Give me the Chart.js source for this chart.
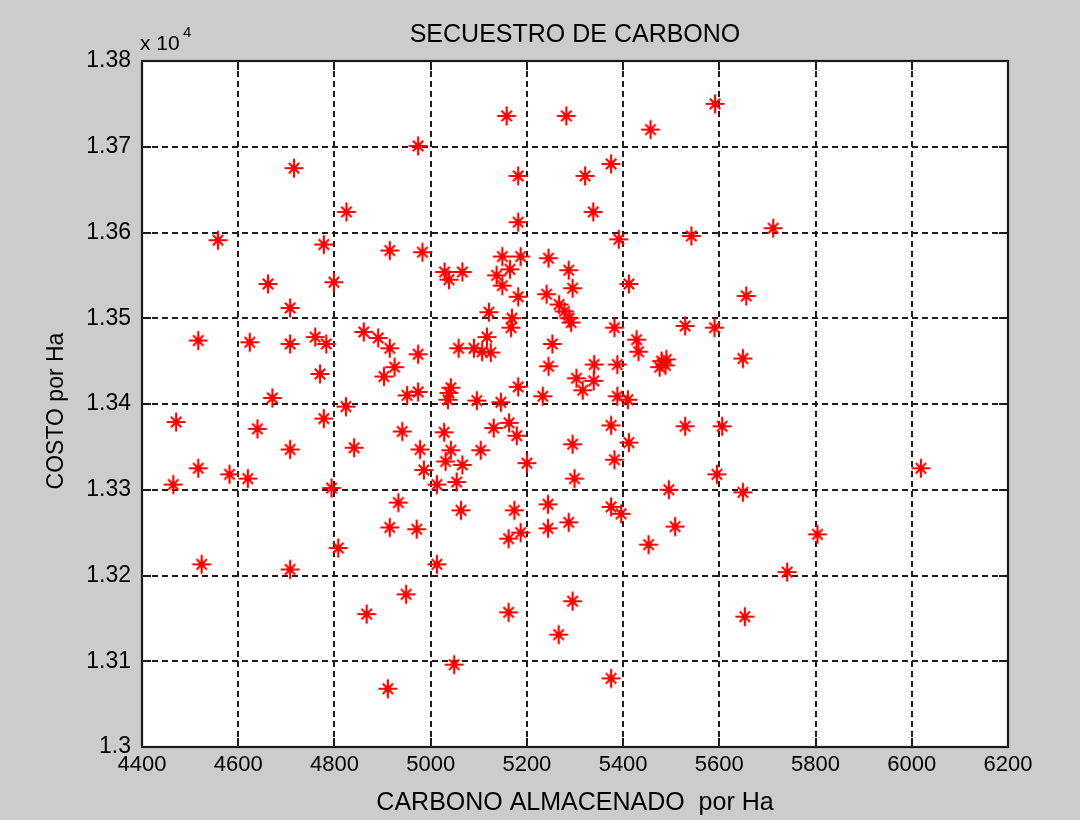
<!DOCTYPE html>
<html>
<head>
<meta charset="utf-8">
<title>Secuestro de carbono</title>
<script src="https://cdn.jsdelivr.net/npm/chart.js@4/dist/chart.umd.min.js"></script>
<style>
  html, body { margin: 0; padding: 0; background: #cccccc; }
  #wrap { width: 1080px; height: 820px; }
</style>
</head>
<body>
<div id="wrap"><canvas id="scatterChart" width="1080" height="820"></canvas></div>
<script>
// carbono almacenado por Ha (x) y costo por Ha (y)
const carbono = [
  4974, 4716, 4825, 4558, 4778, 4915, 4983, 4662, 4799, 5158,
  5282, 5591, 5457, 5375, 5321, 5182, 5338, 5182, 5391, 5542,
  5149, 5187, 5245, 5029, 5066, 5038, 5137, 5165, 5149, 5287,
  5295, 5412, 5241, 5182, 5712, 5656, 4708, 4517, 4624, 4708,
  4760, 4783, 4861, 4891, 4915, 4974, 4770, 4925, 4903, 4951,
  4974, 4671, 4824, 4471, 4640, 4778, 4941, 4708, 4841, 4978,
  4517, 4582, 4620, 4465, 4794, 4986, 5013, 4933, 4915, 4971,
  5121, 5169, 5167, 5267, 5278, 5288, 5292, 5382, 5529, 5590,
  5117, 5058, 5090, 5107, 5125, 5253, 5428, 5432, 5480, 5490,
  5476, 5488, 5245, 5340, 5388, 5303, 5339, 5316, 5042, 5038,
  5036, 5182, 5096, 5146, 5233, 5388, 5410, 5028, 5131, 5163,
  5179, 5375, 5529, 5606, 5295, 5412, 5042, 5104, 5031, 5066,
  5200, 5382, 5595, 5054, 5299, 5495, 5063, 5174, 5244, 5375,
  5396, 5162, 5187, 5244, 5287, 5453, 5508, 5013, 5295, 5162,
  5266, 5049, 5375, 4524, 4708, 4808, 4949, 4867, 4911, 5649,
  6019, 5649, 5804, 5741, 5653
];
const costo = [
  13701, 13675, 13624, 13591, 13586, 13579, 13577, 13540, 13542, 13736,
  13736, 13750, 13720, 13680, 13666, 13666, 13624, 13612, 13592, 13596,
  13572, 13572, 13570, 13554, 13554, 13545, 13550, 13557, 13538, 13556,
  13535, 13540, 13528, 13525, 13605, 13526, 13512, 13474, 13472, 13470,
  13478, 13470, 13484, 13477, 13465, 13458, 13435, 13443, 13432, 13410,
  13414, 13407, 13397, 13379, 13371, 13383, 13368, 13347, 13349, 13347,
  13325, 13318, 13313, 13306, 13302, 13323, 13306, 13285, 13256, 13254,
  13507, 13500, 13489, 13516, 13508, 13500, 13495, 13489, 13491, 13489,
  13478, 13465, 13465, 13461, 13460, 13470, 13475, 13461, 13450, 13452,
  13443, 13445, 13444, 13446, 13446, 13430, 13427, 13416, 13419, 13413,
  13405, 13420, 13404, 13402, 13409, 13409, 13405, 13367, 13372, 13378,
  13363, 13375, 13374, 13374, 13353, 13355, 13346, 13346, 13333, 13329,
  13331, 13335, 13318, 13309, 13313, 13300, 13276, 13276, 13283, 13280,
  13272, 13243, 13250, 13255, 13262, 13236, 13257, 13213, 13170, 13157,
  13131, 13096, 13080, 13213, 13207, 13232, 13178, 13155, 13068, 13453,
  13325, 13297, 13248, 13204, 13152
];
const xTicks = [4400, 4600, 4800, 5000, 5200, 5400, 5600, 5800, 6000, 6200];
const yTicks = [13000, 13100, 13200, 13300, 13400, 13500, 13600, 13700, 13800];

const titulo = "SECUESTRO DE CARBONO";
const tituloX = "CARBONO ALMACENADO  por Ha";
const tituloY = "COSTO por Ha";

// marcador tipo '*' de matlab
function makeStar() {
  const c = document.createElement("canvas");
  c.width = 22;
  c.height = 22;
  const g = c.getContext("2d");
  g.strokeStyle = "#ff0000";
  g.lineWidth = 2.2;
  g.beginPath();
  g.moveTo(11, 1.5); g.lineTo(11, 20.5);
  g.moveTo(1.5, 11); g.lineTo(20.5, 11);
  g.moveTo(5.8, 5.8); g.lineTo(16.2, 16.2);
  g.moveTo(16.2, 5.8); g.lineTo(5.8, 16.2);
  g.stroke();
  g.fillStyle = "#ff0000";
  g.beginPath();
  g.arc(11, 11, 3, 0, Math.PI * 2);
  g.fill();
  return c;
}

const points = carbono.map((x, i) => ({ x: x, y: costo[i] }));

const matlabFrame = {
  id: "matlabFrame",
  beforeDraw(chart) {
    const { ctx, width, height, chartArea: a } = chart;
    ctx.save();
    ctx.fillStyle = "#cccccc";
    ctx.fillRect(0, 0, width, height);
    ctx.fillStyle = "#ffffff";
    ctx.fillRect(a.left, a.top, a.right - a.left, a.bottom - a.top);
    ctx.restore();
  },
  afterDraw(chart) {
    const { ctx, chartArea: a } = chart;
    const xs = chart.scales.x, ys = chart.scales.y;
    ctx.save();
    ctx.strokeStyle = "#1a1a1a";
    ctx.lineWidth = 2;
    ctx.beginPath();
    xs.ticks.forEach((t) => {
      const px = Math.round(xs.getPixelForValue(t.value));
      ctx.moveTo(px, a.bottom); ctx.lineTo(px, a.bottom - 9);
      ctx.moveTo(px, a.top); ctx.lineTo(px, a.top + 9);
    });
    ys.ticks.forEach((t) => {
      const py = Math.round(ys.getPixelForValue(t.value));
      ctx.moveTo(a.left, py); ctx.lineTo(a.left + 9, py);
      ctx.moveTo(a.right, py); ctx.lineTo(a.right - 9, py);
    });
    ctx.stroke();
    ctx.lineWidth = 2.2;
    ctx.strokeRect(a.left, a.top, a.right - a.left, a.bottom - a.top);

    ctx.fillStyle = "#000000";
    ctx.textAlign = "center";
    ctx.textBaseline = "alphabetic";
    ctx.font = "25px 'Liberation Sans', Arial, sans-serif";
    ctx.fillText(titulo, (a.left + a.right) / 2, 42);

    ctx.textAlign = "left";
    ctx.font = "21px 'Liberation Sans', Arial, sans-serif";
    ctx.fillText("x 10", a.left - 2, 50);
    ctx.font = "15px 'Liberation Sans', Arial, sans-serif";
    ctx.fillText("4", a.left + 41, 37);

    // titulo del eje y
    ctx.translate(57, 411);
    ctx.rotate(-Math.PI / 2);
    ctx.textAlign = "center";
    ctx.textBaseline = "middle";
    ctx.font = "23px 'Liberation Sans', Arial, sans-serif";
    ctx.fillText(tituloY, 0, 0);
    ctx.restore();
  },
};

new Chart(document.getElementById("scatterChart"), {
  type: "scatter",
  data: {
    datasets: [
      {
        label: "Costo",
        data: points,
        pointStyle: makeStar(),
        pointRadius: 10,
        borderColor: "#ff0000",
        backgroundColor: "#ff0000",
      },
    ],
  },
  options: {
    responsive: false,
    animation: false,
    layout: { padding: { top: 61, right: 72, bottom: 0, left: 0 }, autoPadding: false },
    plugins: {
      legend: { display: false },
      title: { display: false },
      tooltip: { enabled: false },
    },
    scales: {
      x: {
        type: "linear",
        min: 4400,
        max: 6200,
        afterBuildTicks: (scale) => {
          scale.ticks = xTicks.map((v) => ({ value: v }));
        },
        afterFit: (scale) => {
          scale.height = 73;
        },
        ticks: {
          color: "#000000",
          padding: 5,
          font: { family: "'Liberation Sans', Arial, sans-serif", size: 22 },
          maxRotation: 0,
          callback: (v) => String(v),
        },
        grid: { color: "#1f1f1f", lineWidth: 2, drawTicks: false },
        border: { display: false, dash: [6, 4] },
        title: {
          display: true,
          text: tituloX,
          color: "#000000",
          font: { family: "'Liberation Sans', Arial, sans-serif", size: 25 },
          padding: { top: 0, bottom: 2 },
        },
      },
      y: {
        type: "linear",
        min: 13000,
        max: 13800,
        afterBuildTicks: (scale) => {
          scale.ticks = yTicks.map((v) => ({ value: v }));
        },
        afterFit: (scale) => {
          scale.width = 142;
        },
        ticks: {
          color: "#000000",
          padding: 11,
          font: { family: "'Liberation Sans', Arial, sans-serif", size: 23 },
          callback: (v) => String(parseFloat((v / 10000).toFixed(2))),
        },
        grid: { color: "#1f1f1f", lineWidth: 2, drawTicks: false },
        border: { display: false, dash: [6, 4] },
        title: { display: false },
      },
    },
  },
  plugins: [matlabFrame],
});
</script>
</body>
</html>
